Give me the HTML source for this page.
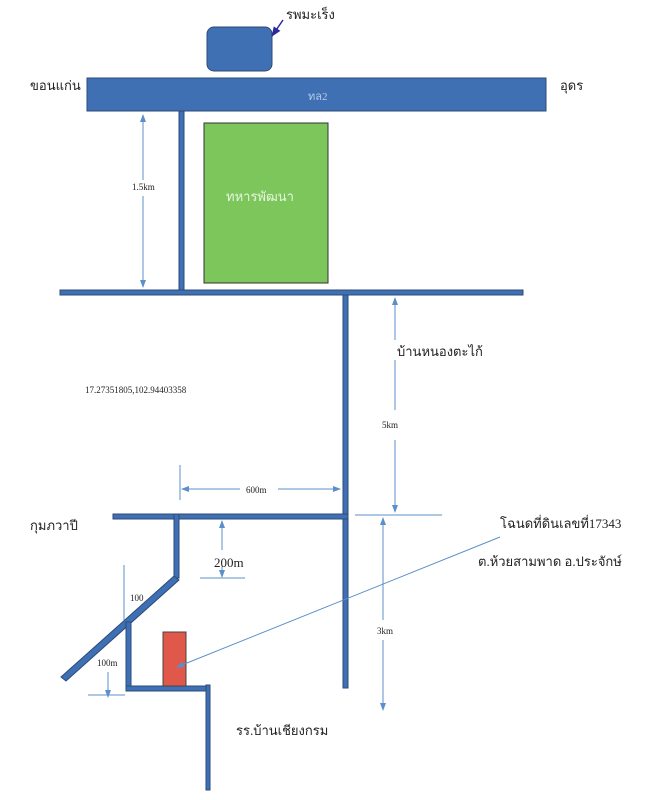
<!DOCTYPE html>
<html><head><meta charset="utf-8"><style>
html,body{margin:0;padding:0;background:#fff;width:653px;height:800px;overflow:hidden}
svg{display:block}
text{font-family:"Liberation Serif",serif;fill:#222}
</style></head><body>
<svg width="653" height="800" viewBox="0 0 653 800" xmlns="http://www.w3.org/2000/svg">
<defs>
<marker id="a" markerWidth="8" markerHeight="8" refX="7" refY="4" orient="auto" markerUnits="userSpaceOnUse"><path d="M0,1 L8,4 L0,7 Z" fill="#5b8fc9"/></marker>
<marker id="b" markerWidth="10" markerHeight="10" refX="9" refY="5" orient="auto" markerUnits="userSpaceOnUse"><path d="M0,1 L10,5 L0,9 Z" fill="#2a2a9a"/></marker>
</defs>
<g fill="#3f70b3" stroke="#2c4a78" stroke-width="1">
<rect x="207" y="27" width="65" height="44" rx="7"/>
<rect x="87" y="78" width="459" height="33"/>
<rect x="179" y="111" width="5" height="181"/>
<rect x="60" y="290" width="463" height="5"/>
<rect x="343" y="295" width="5" height="393"/>
<rect x="113" y="514" width="235" height="5"/>
<rect x="174" y="514" width="5" height="64"/>
<polygon points="174,576 179,580 66,681 61,677"/>
<rect x="126" y="622" width="5" height="68"/>
<rect x="126" y="686" width="84" height="5"/>
<rect x="206" y="685" width="4" height="105"/>
</g>
<rect x="204" y="123" width="124" height="160" fill="#7dc65c" stroke="#333" stroke-width="1"/>
<rect x="163" y="632" width="23" height="54" fill="#e0584a" stroke="#444" stroke-width="1"/>
<g stroke="#5b8fc9" stroke-width="1" fill="none">
<line x1="143" y1="180" x2="143" y2="115" marker-end="url(#a)"/>
<line x1="143" y1="196" x2="143" y2="287" marker-end="url(#a)"/>
<line x1="395" y1="340" x2="395" y2="298" marker-end="url(#a)"/>
<line x1="395" y1="440" x2="395" y2="512" marker-end="url(#a)"/>
<line x1="395" y1="360" x2="395" y2="410"/>
<line x1="180" y1="465" x2="180" y2="500"/>
<line x1="240" y1="489" x2="182" y2="489" marker-end="url(#a)"/>
<line x1="278" y1="489" x2="340" y2="489" marker-end="url(#a)"/>
<line x1="355" y1="515" x2="442" y2="515"/>
<line x1="383" y1="620" x2="383" y2="518" marker-end="url(#a)"/>
<line x1="383" y1="640" x2="383" y2="710" marker-end="url(#a)"/>
<line x1="222" y1="550" x2="222" y2="521" marker-end="url(#a)"/>
<line x1="222" y1="565" x2="222" y2="577" marker-end="url(#a)"/>
<line x1="200" y1="578" x2="245" y2="578"/>
<line x1="124" y1="565" x2="124" y2="620"/>
<line x1="88" y1="695" x2="125" y2="695"/>
<line x1="108" y1="672" x2="108" y2="697" marker-end="url(#a)"/>
<line x1="500" y1="537" x2="177" y2="667" marker-end="url(#a)"/>
</g>
<line x1="283" y1="20" x2="272" y2="36" stroke="#2a2a9a" stroke-width="1.5" marker-end="url(#b)"/>
<g font-size="13">
<text x="286" y="19">รพมะเร็ง</text>
<text x="30" y="90">ขอนแก่น</text>
<text x="560" y="90">อุดร</text>
<text x="397" y="356">บ้านหนองตะไก้</text>
<text x="30" y="530">กุมภวาปี</text>
<text x="500" y="528">โฉนดที่ดินเลขที่17343</text>
<text x="478" y="566">ต.ห้วยสามพาด อ.ประจักษ์</text>
<text x="236" y="735">รร.บ้านเชียงกรม</text>
<text x="214" y="567">200m</text>
</g>
<text x="308" y="100" font-size="11" style="fill:#b8cdea">ทล2</text>
<text x="226" y="201" font-size="13" style="fill:#e6f5dd">ทหารพัฒนา</text>
<g font-size="9">
<text x="132" y="190">1.5km</text>
<text x="85" y="393">17.27351805,102.94403358</text>
<text x="382" y="428">5km</text>
<text x="246" y="493">600m</text>
<text x="377" y="634">3km</text>
<text x="130" y="601">100</text>
<text x="97" y="666">100m</text>
</g>
</svg>
</body></html>
